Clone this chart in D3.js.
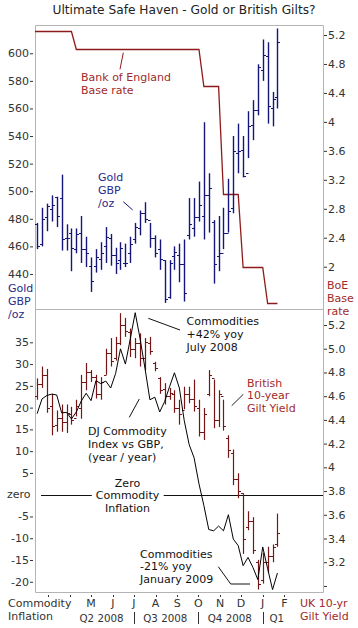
<!DOCTYPE html>
<html>
<head>
<meta charset="utf-8">
<script src="https://cdn.jsdelivr.net/npm/d3@7"></script>
<style>
    body { margin: 0; background: #fff; }
    svg text { font-family: "DejaVu Sans", Verdana, sans-serif; }
</style>
</head>
<body>
<script>
(function () {

    //weekly observation dates (thursdays)
    var weekDates = ["2008-02-14","2008-02-21","2008-02-28","2008-03-06","2008-03-13","2008-03-20","2008-03-27",
        "2008-04-03","2008-04-10","2008-04-17","2008-04-24","2008-05-01","2008-05-08","2008-05-15","2008-05-22",
        "2008-05-29","2008-06-05","2008-06-12","2008-06-19","2008-06-26","2008-07-03","2008-07-10","2008-07-17",
        "2008-07-24","2008-07-31","2008-08-07","2008-08-14","2008-08-21","2008-08-28","2008-09-04","2008-09-11",
        "2008-09-18","2008-09-25","2008-10-02","2008-10-09","2008-10-16","2008-10-23","2008-10-30","2008-11-06",
        "2008-11-13","2008-11-20","2008-11-27","2008-12-04","2008-12-11","2008-12-18","2008-12-25","2009-01-01",
        "2009-01-08","2009-01-15","2009-01-22"];

    //gold in GBP per ounce, weekly bars
    var goldHigh  = [477,488,491,497,496,512,476,473,473,482,467,452,458,463,474,469,459,463,462,467,477,486,492,477,468,
                     465,450,450,460,462,465,495,495,507,550,513,479,482,488,509,540,549,540,558,566,592,610,608,572,618];
    var goldLow   = [458,460,471,478,474,457,457,442,455,448,445,427,441,443,448,446,440,443,445,448,462,468,477,459,452,
                     443,419,422,443,434,420,465,467,478,465,470,433,442,458,470,484,513,510,524,537,555,580,549,547,560];
    var goldOpen  = [476,462,481,487,496,495,466,470,458,470,458,446,446,451,460,466,454,450,448,455,465,473,484,479,466,
                     458,450,423,453,454,447,468,473,481,482,497,478,453,455,470,488,528,530,513,548,559,588,598,560,568];
    var goldClose = [460,480,489,490,482,465,466,459,469,458,455,435,452,455,467,454,448,459,448,462,474,484,480,466,455,
                     451,422,448,456,447,426,476,481,490,497,502,447,455,470,486,529,529,511,547,559,590,599,562,567,608];

    //UK 10-year gilt yield, weekly bars
    var giltHigh  = [4.75,4.85,4.83,4.62,4.48,4.53,4.53,4.51,4.57,4.78,4.88,4.82,4.78,4.76,5.00,5.09,5.10,5.30,5.26,5.17,
                     5.09,5.13,5.09,5.10,4.89,4.76,4.71,4.67,4.65,4.57,4.68,4.68,4.74,4.57,4.50,4.82,4.74,4.65,4.57,4.27,
                     4.15,3.95,3.78,3.63,3.58,3.22,3.28,3.33,3.35,3.61];
    var giltLow   = [4.57,4.67,4.46,4.27,4.30,4.30,4.29,4.36,4.43,4.41,4.65,4.72,4.58,4.57,4.78,4.85,4.90,5.03,5.10,4.93,
                     4.92,4.85,4.82,4.95,4.81,4.62,4.53,4.57,4.46,4.36,4.49,4.54,4.47,4.26,4.23,4.60,4.33,4.34,4.31,4.08,
                     3.85,3.74,3.27,3.47,3.27,2.97,3.02,3.11,3.20,3.33];
    var giltOpen  = [4.60,4.70,4.78,4.52,4.36,4.42,4.38,4.45,4.42,4.50,4.72,4.80,4.76,4.62,4.78,4.96,4.92,5.05,5.20,5.14,
                     5.00,5.05,4.92,5.05,4.88,4.75,4.66,4.60,4.62,4.50,4.48,4.62,4.58,4.50,4.30,4.62,4.75,4.40,4.60,4.25,
                     4.12,3.90,3.78,3.50,3.55,3.20,3.05,3.20,3.25,3.35];
    var giltClose = [4.70,4.78,4.50,4.35,4.42,4.38,4.46,4.40,4.52,4.72,4.80,4.76,4.62,4.72,4.96,4.90,5.05,5.20,5.15,5.00,
                     5.05,4.92,5.06,4.98,4.84,4.65,4.60,4.63,4.50,4.45,4.62,4.58,4.52,4.30,4.45,4.78,4.40,4.62,4.35,4.15,
                     3.90,3.80,3.40,3.55,3.30,3.02,3.20,3.25,3.33,3.45];

    //DJ commodity index vs GBP, % change year on year
    var commodityYoy = [18.6,22.0,22.8,23.1,22.9,18.8,18.9,17.4,19.0,21.5,23.3,21.6,26.2,25.5,26.1,24.5,27.8,33.5,30.0,35.8,
                        41.8,35.8,29.0,21.8,22.4,19.0,21.4,24.8,28.0,24.5,17.0,11.5,8.5,2.5,-2.5,-8.0,-8.3,-7.2,-8.3,-4.6,
                        -10.2,-11.7,-16.3,-14.4,-16.7,-19.5,-12.0,-17.0,-21.8,-18.0];

    //Bank of England base rate, weekly readings around each change
    var boeDates = ["2008-02-07","2008-04-03","2008-04-10","2008-10-02","2008-10-09","2008-10-30","2008-11-06",
                    "2008-11-27","2008-12-04","2009-01-01","2009-01-08","2009-01-22"];
    var boeRate  = [5.25,5.25,5.0,5.0,4.5,4.5,3.0,3.0,2.0,2.0,1.5,1.5];

    //axis ticks and labels
    var goldTicks = [440,460,480,500,520,540,560,580,600];
    var boeTicks = [2,2.4,2.8,3.2,3.6,4,4.4,4.8,5.2];
    var commTicks = [-20,-15,-10,-5,5,10,15,20,25,30,35];
    var giltTicks = [3.0,3.2,3.4,3.6,3.8,4.0,4.2,4.4,4.6,4.8,5.0,5.2];
    var giltTickLabels = ["","3.2","3.4","3.6","3.8","4","4.2","4.4","4.6","4.8","5.0","5.2"];
    var monthTicks = ["2008-03-01","2008-04-01","2008-05-01","2008-06-01","2008-07-01","2008-08-01","2008-09-01",
                      "2008-10-01","2008-11-01","2008-12-01","2009-01-01","2009-02-01"];
    var monthLabels = ["","","M","J","J","A","S","O","N","D","J","F"];
    var quarterLabels = ["Q2 2008","Q3 2008","Q4 2008","Q1"];
    var quarterDates = ["2008-05-16","2008-08-15","2008-11-15","2009-01-21"];
    var quarterBreaks = ["2008-07-01","2008-10-01","2009-01-01"];

    //frame dimensions
    var width = 358, height = 628,
        left = 35, right = 323,
        top1 = 25, mid = 309, bottom2 = 592;

    var navy = "#16167a", boeRed = "#8e1b1b", textRed = "#a12a2a", giltRed = "#761515", grey = "#333";

    var parseDate = d3.utcParse("%Y-%m-%d");

    var svg = d3.select("body")
        .append("svg")
        .attr("width", width)
        .attr("height", height);

    svg.append("rect").attr("width", width).attr("height", height).attr("fill", "#fff");

    //scales
    var x = d3.scaleUtc()
        .domain([parseDate("2008-02-11"), parseDate("2009-03-28")])
        .range([left, right]);
    var yGold = d3.scaleLinear().domain([414.6, 620.5]).range([mid, top1]);
    var yBoe = d3.scaleLinear().domain([1.416, 5.338]).range([mid, top1]);
    var yComm = d3.scaleLinear().domain([-22.35, 42.65]).range([bottom2, mid]);
    var yGilt = d3.scaleLinear().domain([2.949, 5.335]).range([bottom2, mid]);

    function px(d) { return Math.round(x(d)) + 0.5; }

    //clip regions for the two panels
    var defs = svg.append("defs");
    defs.append("clipPath").attr("id", "clipTop").append("rect")
        .attr("x", left).attr("y", top1).attr("width", right - left).attr("height", mid - top1);
    defs.append("clipPath").attr("id", "clipBottom").append("rect")
        .attr("x", left).attr("y", mid).attr("width", right - left).attr("height", bottom2 - mid);

    //build tables
    var goldData = weekDates.map(function (d, i) {
        return { date: parseDate(d), hi: goldHigh[i], lo: goldLow[i], open: goldOpen[i], close: goldClose[i] };
    });
    var giltData = weekDates.map(function (d, i) {
        return { date: parseDate(d), hi: giltHigh[i], lo: giltLow[i], open: giltOpen[i], close: giltClose[i] };
    });
    var commData = weekDates.map(function (d, i) {
        return { date: parseDate(d), value: commodityYoy[i] };
    });
    var boeData = boeDates.map(function (d, i) {
        return { date: parseDate(d), value: boeRate[i] };
    });

    //panel frames
    svg.append("path")
        .attr("d", "M" + (left + 0.5) + "," + (top1 + 0.5) + "H" + (right + 0.5) + "V" + (bottom2 + 0.5) +
              "H" + (left + 0.5) + "Z M" + (left + 0.5) + "," + (mid + 0.5) + "H" + (right + 0.5))
        .attr("fill", "none")
        .attr("stroke", "#b4b4b4")
        .attr("stroke-width", 1);

    var topPlot = svg.append("g").attr("clip-path", "url(#clipTop)");
    var botPlot = svg.append("g").attr("clip-path", "url(#clipBottom)");

    //OHLC bars
    function drawBars(g, data, yScale, color, cls, w) {
        var bars = g.selectAll("." + cls)
            .data(data)
            .enter()
            .append("g")
            .attr("class", cls)
            .attr("stroke", color)
            .attr("stroke-width", w);
        bars.append("line")
            .attr("x1", function (d) { return px(d.date); })
            .attr("x2", function (d) { return px(d.date); })
            .attr("y1", function (d) { return yScale(d.hi); })
            .attr("y2", function (d) { return yScale(d.lo); });
        bars.append("line")
            .attr("x1", function (d) { return px(d.date) - 2.5; })
            .attr("x2", function (d) { return px(d.date); })
            .attr("y1", function (d) { return Math.round(yScale(d.open)) + 0.5; })
            .attr("y2", function (d) { return Math.round(yScale(d.open)) + 0.5; })
            .attr("stroke-width", 1);
        bars.append("line")
            .attr("x1", function (d) { return px(d.date); })
            .attr("x2", function (d) { return px(d.date) + 2.5; })
            .attr("y1", function (d) { return Math.round(yScale(d.close)) + 0.5; })
            .attr("y2", function (d) { return Math.round(yScale(d.close)) + 0.5; })
            .attr("stroke-width", 1);
    }

    //top panel: BoE base rate and gold
    topPlot.append("path")
        .datum(boeData)
        .attr("fill", "none")
        .attr("stroke", boeRed)
        .attr("stroke-width", 1.3)
        .attr("d", d3.line()
            .x(function (d) { return x(d.date); })
            .y(function (d) { return Math.round(yBoe(d.value)) + 0.5; }));

    drawBars(topPlot, goldData, yGold, navy, "gold", 1.4);

    //bottom panel: zero line, gilt bars, commodity line
    var yZero = Math.round(yComm(0)) + 0.5;
    botPlot.append("line")
        .attr("x1", left + 6).attr("x2", right)
        .attr("y1", yZero).attr("y2", yZero)
        .attr("stroke", "#111").attr("stroke-width", 1);

    drawBars(botPlot, giltData, yGilt, giltRed, "gilt", 1.2);

    botPlot.append("path")
        .datum(commData)
        .attr("fill", "none")
        .attr("stroke", "#000")
        .attr("stroke-width", 1)
        .attr("d", d3.line()
            .x(function (d) { return x(d.date); })
            .y(function (d) { return yComm(d.value); }));

    //axes
    function styleAxis(g) {
        g.select(".domain").remove();
        g.selectAll("line").attr("stroke", grey);
        g.selectAll("text")
            .attr("fill", grey)
            .style("font-size", "11px")
            .style("font-family", "'DejaVu Sans', Verdana, sans-serif");
    }

    svg.append("g")
        .attr("transform", "translate(33,0)")
        .call(d3.axisLeft(yGold).tickValues(goldTicks).tickSize(3).tickPadding(1))
        .call(styleAxis);

    svg.append("g")
        .attr("transform", "translate(324,0)")
        .call(d3.axisRight(yBoe).tickValues(boeTicks).tickSize(3).tickPadding(1)
            .tickFormat(function (d) { return String(d); }))
        .call(styleAxis);

    svg.append("g")
        .attr("transform", "translate(33,0)")
        .call(d3.axisLeft(yComm).tickValues(commTicks).tickSize(3).tickPadding(1)
            .tickFormat(function (d) { return String(d); }))
        .call(styleAxis);

    svg.append("g")
        .attr("transform", "translate(324,0)")
        .call(d3.axisRight(yGilt).tickValues(giltTicks).tickSize(3).tickPadding(1)
            .tickFormat(function (d, i) { return giltTickLabels[i]; }))
        .call(styleAxis);

    svg.append("text")
        .attr("x", 7).attr("y", yComm(0)).attr("dy", "0.32em")
        .attr("fill", grey).style("font-size", "11px")
        .text("zero");

    //month axis
    var months = svg.append("g");
    months.selectAll(".mtick")
        .data(monthTicks)
        .enter()
        .append("line")
        .attr("x1", function (d) { return px(parseDate(d)); })
        .attr("x2", function (d) { return px(parseDate(d)); })
        .attr("y1", bottom2 + 3).attr("y2", bottom2 + 5)
        .attr("stroke", grey);
    months.selectAll(".mlabel")
        .data(monthTicks)
        .enter()
        .append("text")
        .attr("x", function (d) { return x(parseDate(d)); })
        .attr("y", bottom2 + 15)
        .attr("text-anchor", "middle")
        .attr("fill", grey)
        .style("font-size", "11px")
        .text(function (d, i) { return monthLabels[i]; });
    months.selectAll(".qlabel")
        .data(quarterDates)
        .enter()
        .append("text")
        .attr("x", function (d) { return x(parseDate(d)); })
        .attr("y", bottom2 + 30)
        .attr("text-anchor", "middle")
        .attr("fill", grey)
        .style("font-size", "10.3px")
        .text(function (d, i) { return quarterLabels[i]; });
    months.selectAll(".qbreak")
        .data(quarterBreaks)
        .enter()
        .append("line")
        .attr("x1", function (d) { return px(parseDate(d)); })
        .attr("x2", function (d) { return px(parseDate(d)); })
        .attr("y1", bottom2 + 20).attr("y2", bottom2 + 32)
        .attr("stroke", grey);

    //multi-line text helper
    function label(lines, lx, ly, color, anchor, size) {
        var t = svg.append("text")
            .attr("x", lx).attr("y", ly)
            .attr("fill", color)
            .attr("text-anchor", anchor || "start")
            .style("font-size", (size || 11) + "px");
        lines.forEach(function (s, i) {
            t.append("tspan").attr("x", lx).attr("dy", i === 0 ? 0 : 12.8).text(s);
        });
        return t;
    }

    function leader(points, color) {
        svg.append("path")
            .attr("d", d3.line()(points))
            .attr("fill", "none")
            .attr("stroke", color)
            .attr("stroke-width", 1);
    }

    //title
    svg.append("text")
        .attr("x", 184).attr("y", 14)
        .attr("text-anchor", "middle")
        .attr("fill", "#222")
        .style("font-size", "12.2px")
        .text("Ultimate Safe Haven - Gold or British Gilts?");

    //axis captions
    label(["Gold", "GBP", "/oz"], 8, 292, "#2a2a8c");
    label(["BoE", "Base", "rate"], 327, 289, textRed);
    label(["Commodity", "Inflation"], 8, 607, grey);
    label(["UK 10-yr", "Gilt Yield"], 300, 607, textRed);

    //top panel notes
    label(["Bank of England", "Base rate"], 81, 81, textRed);
    leader([[123.3, 52.7], [120, 69.3]], boeRed);
    label(["Gold", "GBP", "/oz"], 98, 181, "#2a2a8c");
    leader([[123.3, 201.7], [132.7, 210]], navy);

    //bottom panel notes
    label(["Commodities", "+42% yoy", "July 2008"], 186.5, 325, "#111");
    leader([[148.3, 318.3], [180, 330]], "#111");
    label(["British", "10-year", "Gilt Yield"], 247, 386.5, textRed);
    leader([[231.7, 405.7], [243.3, 394.3]], "#222");
    label(["DJ Commodity", "Index vs GBP,", "(year / year)"], 88, 435, "#111");
    leader([[129.3, 417.3], [139.3, 399]], "#111");

    var zeroNote = label(["Zero", "Commodity", "Inflation"], 127.5, 486.5, "#111", "middle");
    var bb = zeroNote.node().getBBox();
    svg.insert("rect", function () { return zeroNote.node(); })
        .attr("x", bb.x - 4).attr("y", yZero - 3)
        .attr("width", bb.width + 8).attr("height", 6)
        .attr("fill", "#fff");

    label(["Commodities", "-21% yoy", "January 2009"], 140, 557.5, "#111");
    leader([[218.3, 566.7], [230.7, 584], [250, 584]], "#111");

})();
</script>
</body>
</html>
